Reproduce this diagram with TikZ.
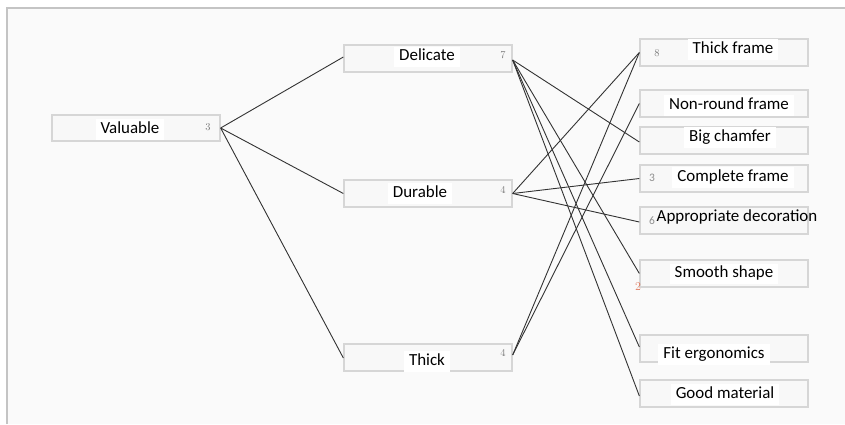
\documentclass[tikz,border=0pt]{standalone}
\usepackage{fontspec}
\setmainfont{Carlito}
\usetikzlibrary{calc}
\definecolor{panelbg}{HTML}{FAFAFA}
\definecolor{framegray}{HTML}{C4C4C4}
\definecolor{boxline}{HTML}{D6D6D6}
\definecolor{boxfill}{HTML}{F8F8F8}
\definecolor{edgecol}{HTML}{333333}
\definecolor{numgray}{HTML}{7A7A7A}
\definecolor{numorange}{HTML}{E07A5F}
\tikzset{
  box/.style={draw=boxline, fill=boxfill, line width=1.3bp, minimum width=168bp, inner sep=0pt},
  lbl/.style={fill=white, inner xsep=5bp, inner ysep=3bp, text height=11.3bp, text depth=3.6bp, font=\fontsize{17}{20}\selectfont},
  num/.style={inner sep=0pt, text=numgray, font=\fontfamily{lmr}\fontsize{10.5}{11}\selectfont},
  snum/.style={inner sep=0pt, text=numgray!85, font=\fontsize{11.5}{12}\selectfont},
  link/.style={draw=edgecol, line width=0.9bp}
}
\begin{document}
\begin{tikzpicture}[x=1bp,y=-1bp]
\useasboundingbox (0,0) rectangle (845,424);
\fill[white] (0,0) rectangle (845,424);
\fill[panelbg] (7,8) rectangle (845,424);
\draw[framegray, line width=1.2bp] (7,424) -- (7,8) -- (845,8);

% boxes
\node[box, minimum height=26bp] (val) at (136,128) {};
\node[box, minimum height=27bp] (del) at (428,58.5) {};
\node[box, minimum height=27bp] (dur) at (428,193.5) {};
\node[box, minimum height=27bp] (thk) at (428,357.5) {};
\node[box, minimum height=27bp] (tf) at (724,52.5) {};
\node[box, minimum height=27bp] (nr) at (724,103.5) {};
\node[box, minimum height=27bp] (bc) at (724,140.5) {};
\node[box, minimum height=27bp] (cf) at (724,178.5) {};
\node[box, minimum height=27bp] (ad) at (724,220.5) {};
\node[box, minimum height=27bp] (ss) at (724,273.5) {};
\node[box, minimum height=27bp] (fe) at (724,348.5) {};
\node[box, minimum height=27bp] (gm) at (724,393.5) {};

% labels
\node[lbl] (tval) at (130,129.5) {Valuable};
\node[lbl] (tdel) at (427,57) {Delicate};
\node[lbl] (tdur) at (420,193.5) {Durable};
\node[lbl] (tthk) at (427,361.5) {Thick};
\node[lbl] (ttf) at (733,49.7) {Thick frame};
\node[lbl] (tnr) at (729,105.5) {Non-round frame};
\node[lbl] (tbc) at (730,137.2) {Big chamfer};
\node[lbl] (tcf) at (733,177.8) {Complete frame};
\node[lbl, fill=none] (tad) at (737,218) {Appropriate decoration};
\node[lbl] (tss) at (724,274) {Smooth shape};
\node[lbl] (tfe) at (714,354.8) {Fit ergonomics};
\node[lbl] (tgm) at (725,394.5) {Good material};

% numbers
\node[num] (n1) at (208,127) {3};
\node[num] (n2) at (503,55) {7};
\node[num] (n3) at (503,190) {4};
\node[num] (n4) at (503,353) {4};
\node[num] (n5) at (657,53) {8};
\node[snum] (n6) at (652,178) {3};
\node[snum] (n7) at (652,221) {6};
\node[num, text=numorange, font=\fontfamily{lmr}\fontsize{12}{12}\selectfont] (n8) at (638,287) {2};

% ports
\coordinate (pval) at ($(val.east)$);
\coordinate (pdel) at ($(del.east)+(0,1.5)$);
\coordinate (pdur) at ($(dur.east)$);
\coordinate (pthk) at ($(thk.east)+(0,-2.5)$);

% connectors
\draw[link] (pval) -- ($(del.west)+(0,-1.5)$);
\draw[link] (pval) -- (dur.west);
\draw[link] (pval) -- ($(thk.west)+(0,0.5)$);

\draw[link] (pdel) -- ($(bc.west)+(0,1.5)$);
\draw[link] (pdel) -- (ss.west);
\draw[link] (pdel) -- ($(fe.west)+(0,-1.5)$);
\draw[link] (pdel) -- ($(gm.west)+(0,2.5)$);

\draw[link] (pdur) -- (tf.west);
\draw[link] (pdur) -- (cf.west);
\draw[link] (pdur) -- ($(ad.west)+(0,1.5)$);

\draw[link] (pthk) -- (tf.west);
\draw[link] (pthk) -- (nr.west);
\end{tikzpicture}
\end{document}
